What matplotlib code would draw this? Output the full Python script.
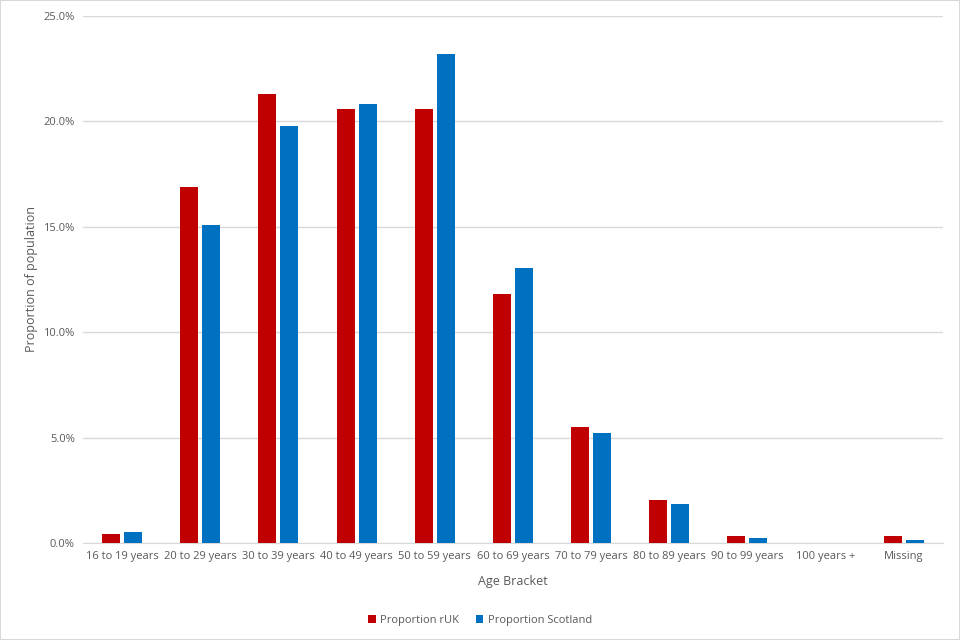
import numpy as np
import matplotlib.pyplot as plt
from matplotlib.ticker import PercentFormatter
from matplotlib.patches import Rectangle

categories = ["16 to 19 years", "20 to 29 years", "30 to 39 years", "40 to 49 years",
              "50 to 59 years", "60 to 69 years", "70 to 79 years", "80 to 89 years",
              "90 to 99 years", "100 years +", "Missing"]
ruk = [0.43, 16.9, 21.3, 20.59, 20.6, 11.8, 5.5, 2.05, 0.35, 0.0, 0.35]
scotland = [0.52, 15.1, 19.78, 20.83, 23.2, 13.05, 5.2, 1.85, 0.25, 0.0, 0.15]

plt.rcParams['font.family'] = ['Open Sans', 'DejaVu Sans']
txt = "#595959"

fig = plt.figure(figsize=(9.6, 6.4), dpi=100)
ax = fig.add_axes([0.0865, 0.1516, 0.8955, 0.8234])
fig.patches.append(Rectangle((0, 0), 1, 1, transform=fig.transFigure, fill=False,
                             edgecolor="#D9D9D9", linewidth=1.5))

x = np.arange(len(categories))
w = 0.23
ax.bar(x - 0.14, ruk, w, color="#C00000", label="Proportion rUK", zorder=3)
ax.bar(x + 0.14, scotland, w, color="#0070C0", label="Proportion Scotland", zorder=3)

ax.set_xlim(-0.5, len(categories) - 0.5)
ax.set_ylim(0, 25)
ax.set_yticks(np.arange(0, 26, 5))
ax.yaxis.set_major_formatter(PercentFormatter(decimals=1))
ax.grid(axis="y", color="#D9D9D9", linewidth=1, zorder=0)
ax.set_xticks(x)
ax.set_xticklabels(categories)
ax.tick_params(axis="both", length=0, labelsize=8, colors=txt, pad=6)
for s in ["top", "right", "left"]:
    ax.spines[s].set_visible(False)
ax.spines["bottom"].set_color("#D9D9D9")

ax.set_xlabel("Age Bracket", fontsize=9, color=txt, labelpad=9)
ax.set_ylabel("Proportion of population", fontsize=9, color=txt, labelpad=4)

fig.legend(loc="lower center", bbox_to_anchor=(0.5, 0.006), ncol=2, frameon=False,
           fontsize=8, labelcolor=txt, handlelength=0.7, handleheight=0.7,
           columnspacing=1.5, handletextpad=0.4)

fig.savefig("out.png", dpi=100)
